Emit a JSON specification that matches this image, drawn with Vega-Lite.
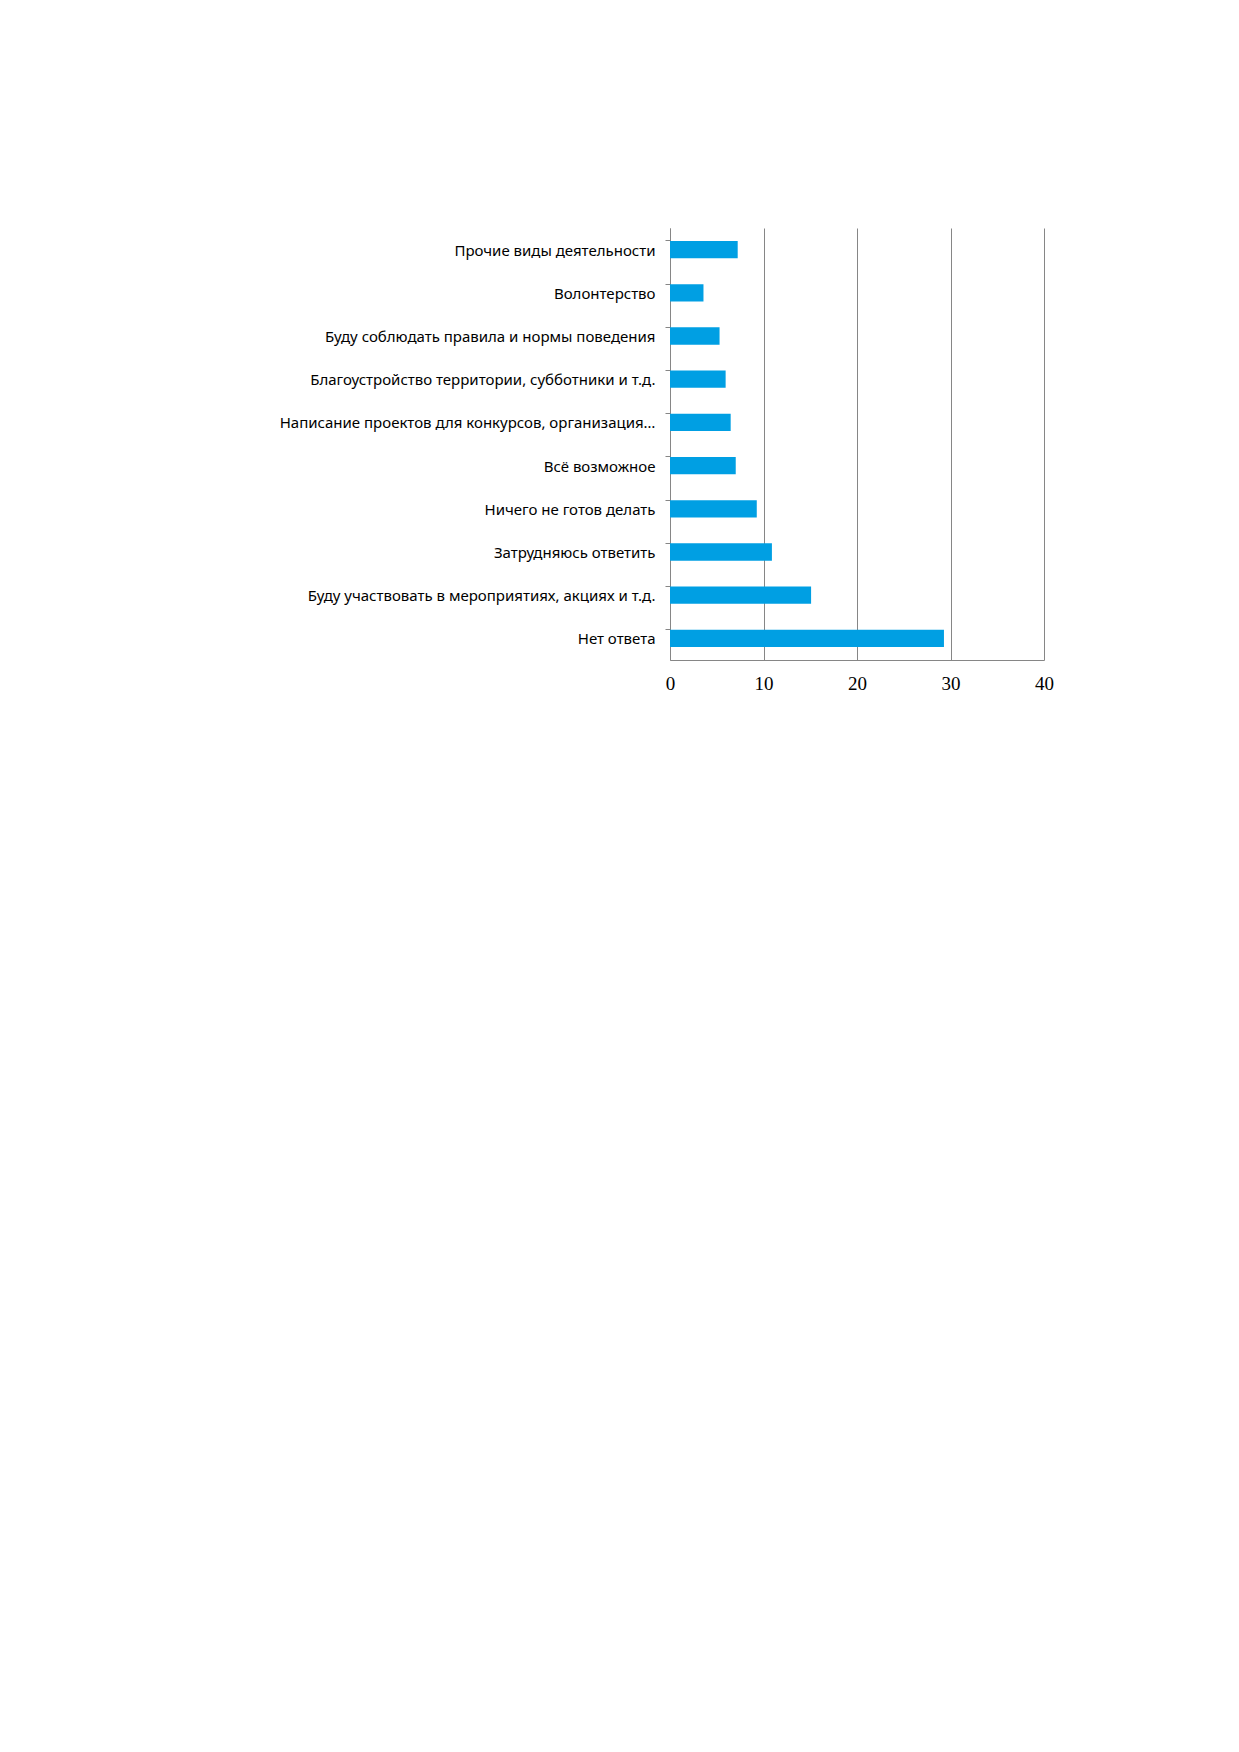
{
  "$schema": "https://vega.github.io/schema/vega-lite/v6.json",
  "width": 374,
  "height": 432,
  "autosize": {"type": "none"},
  "padding": {"left": 670, "top": 228, "right": 195, "bottom": 1092},
  "background": "white",
  "config": {"view": {"stroke": null}},
  "data": {
    "values": [
      {"category": "Прочие виды деятельности", "value": 7.24},
      {"category": "Волонтерство", "value": 3.58},
      {"category": "Буду соблюдать правила и нормы поведения", "value": 5.3},
      {"category": "Благоустройство территории, субботники и т.д.", "value": 5.95},
      {"category": "Написание проектов для конкурсов, организация…", "value": 6.49},
      {"category": "Всё возможное", "value": 7.03},
      {"category": "Ничего не готов делать", "value": 9.28},
      {"category": "Затрудняюсь ответить", "value": 10.9},
      {"category": "Буду участвовать в мероприятиях,  акциях и т.д.", "value": 15.09},
      {"category": "Нет ответа", "value": 29.3}
    ]
  },
  "mark": {"type": "bar", "color": "#009FE3"},
  "encoding": {
    "y": {
      "field": "category",
      "type": "nominal",
      "sort": null,
      "title": null,
      "scale": {"paddingInner": 0.6, "paddingOuter": 0.3},
      "axis": {
        "bandPosition": 0,
        "domainColor": "#868686",
        "tickColor": "#868686",
        "tickSize": 5,
        "labelPadding": 10,
        "labelFont": "Noto Sans",
        "labelFontSize": 15,
        "labelColor": "#000000",
        "labelLimit": 500,
        "labelOffset": 1,
        "grid": false
      }
    },
    "x": {
      "field": "value",
      "type": "quantitative",
      "title": null,
      "scale": {"domain": [0, 40], "nice": false},
      "axis": {
        "values": [0, 10, 20, 30, 40],
        "grid": true,
        "gridColor": "#868686",
        "domainColor": "#868686",
        "ticks": false,
        "labelFlush": false,
        "labelOverlap": false,
        "labelPadding": 14,
        "labelFont": "Liberation Serif",
        "labelFontSize": 19,
        "labelColor": "#000000"
      }
    }
  }
}
